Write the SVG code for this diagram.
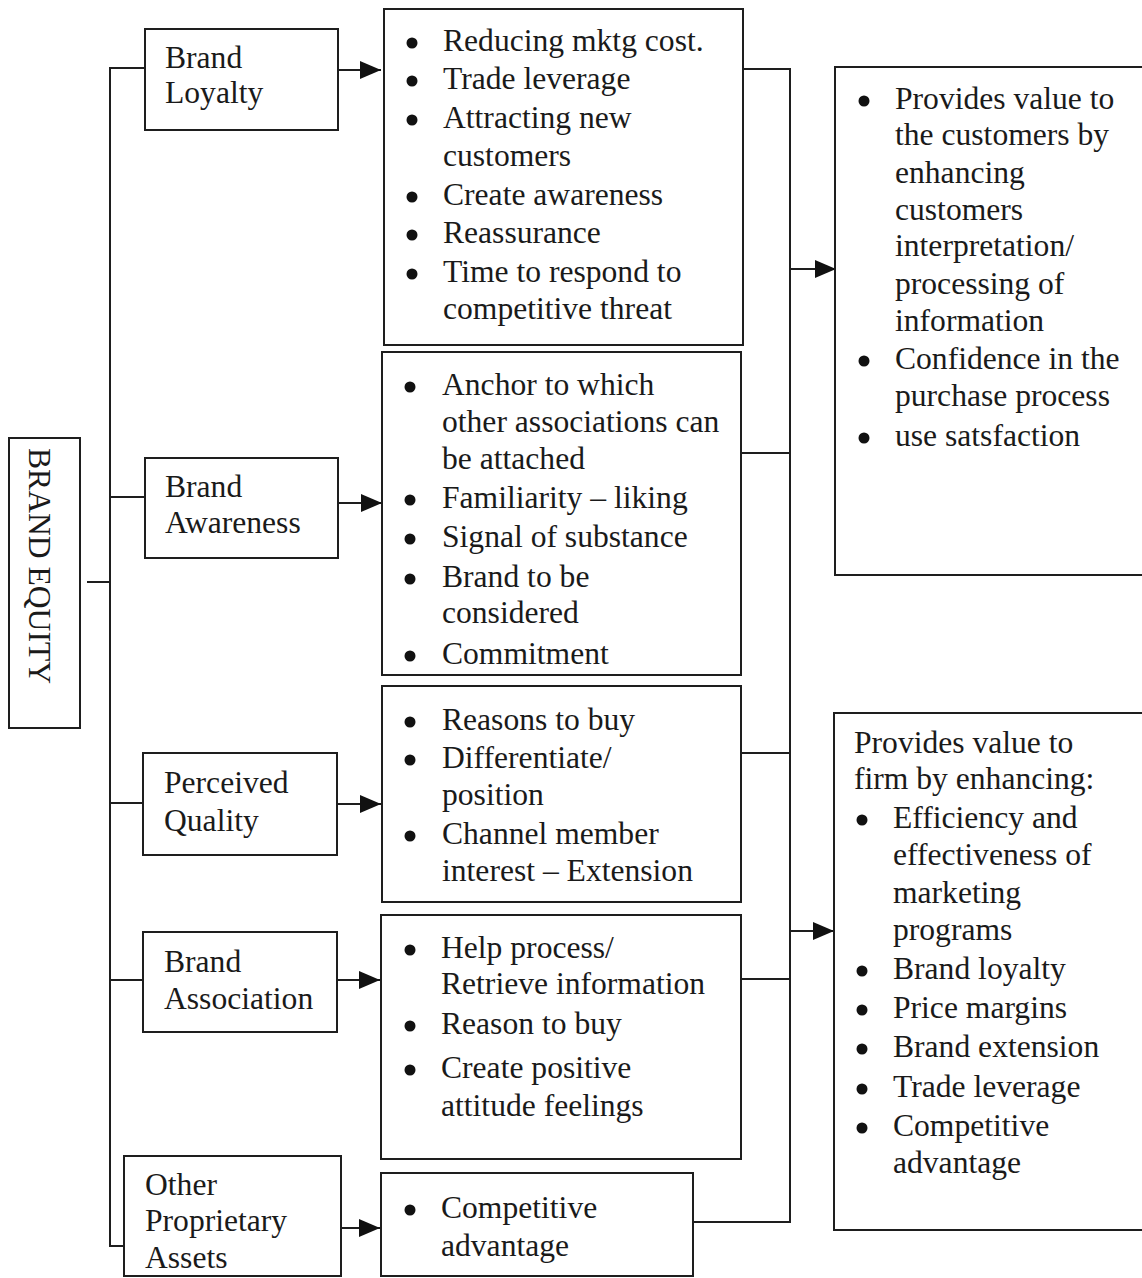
<svg xmlns="http://www.w3.org/2000/svg" width="1142" height="1278" viewBox="0 0 1142 1278">
<style>
.box{fill:#fff;stroke:#1e1e1e;stroke-width:2}
.ln{fill:none;stroke:#1e1e1e;stroke-width:2}
.t{font-family:"Liberation Serif","Times New Roman",serif;font-size:31.6px;fill:#1a1a1a}
.b{fill:#111}
</style>
<defs>
<marker id="ah" viewBox="0 0 21 18" refX="21" refY="9" markerWidth="21" markerHeight="18" markerUnits="userSpaceOnUse" orient="auto">
<path d="M0,0 L21,9 L0,18 z" fill="#111"/>
</marker>
</defs>
<rect width="1142" height="1278" fill="#fff"/>

<g id="connectors">
<line class="ln" x1="87" y1="582" x2="110" y2="582"/>
<path class="ln" d="M145,68 H110 V1246 H124"/>
<line class="ln" x1="110" y1="497" x2="145" y2="497"/>
<line class="ln" x1="110" y1="803" x2="143" y2="803"/>
<line class="ln" x1="110" y1="980" x2="143" y2="980"/>
<line class="ln" x1="338" y1="70" x2="381" y2="70" marker-end="url(#ah)"/>
<line class="ln" x1="338" y1="503" x2="382" y2="503" marker-end="url(#ah)"/>
<line class="ln" x1="337" y1="804" x2="381" y2="804" marker-end="url(#ah)"/>
<line class="ln" x1="337" y1="980" x2="380" y2="980" marker-end="url(#ah)"/>
<line class="ln" x1="341" y1="1228" x2="380" y2="1228" marker-end="url(#ah)"/>
<path class="ln" d="M742,69 H790 V1222 H693"/>
<line class="ln" x1="741" y1="453" x2="790" y2="453"/>
<line class="ln" x1="741" y1="753" x2="790" y2="753"/>
<line class="ln" x1="741" y1="979" x2="790" y2="979"/>
<line class="ln" x1="790" y1="269" x2="836" y2="269" marker-end="url(#ah)"/>
<line class="ln" x1="790" y1="931" x2="834" y2="931" marker-end="url(#ah)"/>
</g>

<g id="brand-equity">
<rect class="box" x="9" y="438" width="71" height="290"/>
<text class="t" transform="translate(29,448) rotate(90)">BRAND EQUITY</text>
</g>

<g id="brand-loyalty">
<rect class="box" x="145" y="29" width="193" height="101"/>
<text class="t" x="165" y="68">Brand</text>
<text class="t" x="165" y="103">Loyalty</text>
</g>

<g id="brand-awareness">
<rect class="box" x="145" y="458" width="193" height="100"/>
<text class="t" x="165" y="497">Brand</text>
<text class="t" x="165" y="533">Awareness</text>
</g>

<g id="perceived-quality">
<rect class="box" x="143" y="753" width="194" height="102"/>
<text class="t" x="164" y="793">Perceived</text>
<text class="t" x="164" y="831">Quality</text>
</g>

<g id="brand-association">
<rect class="box" x="143" y="932" width="194" height="100"/>
<text class="t" x="164" y="972">Brand</text>
<text class="t" x="164" y="1009">Association</text>
</g>

<g id="other-assets">
<rect class="box" x="124" y="1156" width="217" height="120"/>
<text class="t" x="145" y="1195">Other</text>
<text class="t" x="145" y="1231">Proprietary</text>
<text class="t" x="145" y="1268">Assets</text>
</g>

<g id="loyalty-benefits">
<rect class="box" x="384" y="9" width="359" height="336"/>
<circle class="b" cx="412" cy="43" r="5.5"/>
<circle class="b" cx="412" cy="81" r="5.5"/>
<circle class="b" cx="412" cy="120" r="5.5"/>
<circle class="b" cx="412" cy="197" r="5.5"/>
<circle class="b" cx="412" cy="235" r="5.5"/>
<circle class="b" cx="412" cy="274" r="5.5"/>
<text class="t" x="443" y="51">Reducing mktg cost.</text>
<text class="t" x="443" y="89">Trade leverage</text>
<text class="t" x="443" y="128">Attracting new</text>
<text class="t" x="443" y="166">customers</text>
<text class="t" x="443" y="205">Create awareness</text>
<text class="t" x="443" y="243">Reassurance</text>
<text class="t" x="443" y="282">Time to respond to</text>
<text class="t" x="443" y="319">competitive threat</text>
</g>

<g id="awareness-benefits">
<rect class="box" x="382" y="352" width="359" height="323"/>
<circle class="b" cx="410" cy="387" r="5.5"/>
<circle class="b" cx="410" cy="500" r="5.5"/>
<circle class="b" cx="410" cy="539" r="5.5"/>
<circle class="b" cx="410" cy="579" r="5.5"/>
<circle class="b" cx="410" cy="656" r="5.5"/>
<text class="t" x="442" y="395">Anchor to which</text>
<text class="t" x="442" y="432">other associations can</text>
<text class="t" x="442" y="469">be attached</text>
<text class="t" x="442" y="508">Familiarity – liking</text>
<text class="t" x="442" y="547">Signal of substance</text>
<text class="t" x="442" y="587">Brand to be</text>
<text class="t" x="442" y="623">considered</text>
<text class="t" x="442" y="664">Commitment</text>
</g>

<g id="quality-benefits">
<rect class="box" x="382" y="686" width="359" height="216"/>
<circle class="b" cx="410" cy="722" r="5.5"/>
<circle class="b" cx="410" cy="760" r="5.5"/>
<circle class="b" cx="410" cy="836" r="5.5"/>
<text class="t" x="442" y="730">Reasons to buy</text>
<text class="t" x="442" y="768">Differentiate/</text>
<text class="t" x="442" y="805">position</text>
<text class="t" x="442" y="844">Channel member</text>
<text class="t" x="442" y="881">interest – Extension</text>
</g>

<g id="association-benefits">
<rect class="box" x="381" y="915" width="360" height="244"/>
<circle class="b" cx="410" cy="950" r="5.5"/>
<circle class="b" cx="410" cy="1026" r="5.5"/>
<circle class="b" cx="410" cy="1070" r="5.5"/>
<text class="t" x="441" y="958">Help process/</text>
<text class="t" x="441" y="994">Retrieve information</text>
<text class="t" x="441" y="1034">Reason to buy</text>
<text class="t" x="441" y="1078">Create positive</text>
<text class="t" x="441" y="1116">attitude feelings</text>
</g>

<g id="other-benefits">
<rect class="box" x="381" y="1173" width="312" height="103"/>
<circle class="b" cx="410" cy="1210" r="5.5"/>
<text class="t" x="441" y="1218">Competitive</text>
<text class="t" x="441" y="1256">advantage</text>
</g>

<g id="customer-value">
<rect class="box" x="835" y="67" width="330" height="508"/>
<circle class="b" cx="864" cy="101" r="5.5"/>
<circle class="b" cx="864" cy="361" r="5.5"/>
<circle class="b" cx="864" cy="438" r="5.5"/>
<text class="t" x="895" y="109">Provides value to</text>
<text class="t" x="895" y="145">the customers by</text>
<text class="t" x="895" y="183">enhancing</text>
<text class="t" x="895" y="220">customers</text>
<text class="t" x="895" y="256">interpretation/</text>
<text class="t" x="895" y="294">processing of</text>
<text class="t" x="895" y="331">information</text>
<text class="t" x="895" y="369">Confidence in the</text>
<text class="t" x="895" y="406">purchase process</text>
<text class="t" x="895" y="446">use satsfaction</text>
</g>

<g id="firm-value">
<rect class="box" x="834" y="713" width="330" height="517"/>
<text class="t" x="854" y="753">Provides value to</text>
<text class="t" x="854" y="789">firm by enhancing:</text>
<circle class="b" cx="862" cy="820" r="5.5"/>
<circle class="b" cx="862" cy="971" r="5.5"/>
<circle class="b" cx="862" cy="1010" r="5.5"/>
<circle class="b" cx="862" cy="1049" r="5.5"/>
<circle class="b" cx="862" cy="1089" r="5.5"/>
<circle class="b" cx="862" cy="1128" r="5.5"/>
<text class="t" x="893" y="828">Efficiency and</text>
<text class="t" x="893" y="865">effectiveness of</text>
<text class="t" x="893" y="903">marketing</text>
<text class="t" x="893" y="940">programs</text>
<text class="t" x="893" y="979">Brand loyalty</text>
<text class="t" x="893" y="1018">Price margins</text>
<text class="t" x="893" y="1057">Brand extension</text>
<text class="t" x="893" y="1097">Trade leverage</text>
<text class="t" x="893" y="1136">Competitive</text>
<text class="t" x="893" y="1173">advantage</text>
</g>
</svg>
